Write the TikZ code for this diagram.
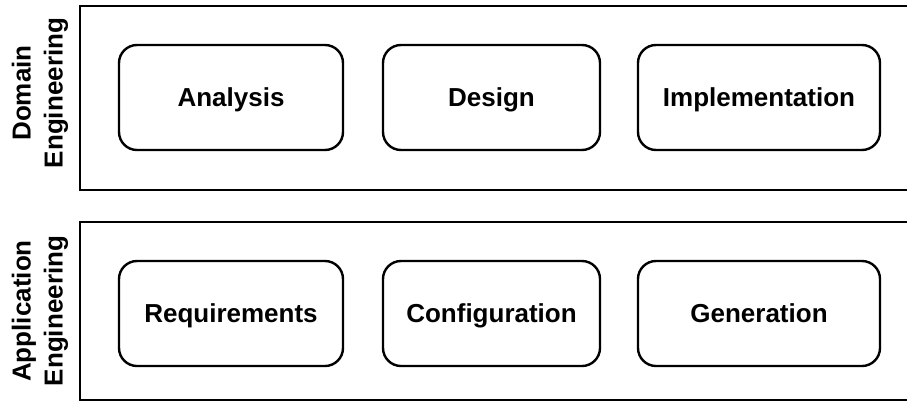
\documentclass[tikz,border=0pt]{standalone}
\usepackage{fontspec}
\setmainfont{Liberation Sans}
\usepackage{tikz}
\tikzset{stage/.style = {shape=rectangle,draw,rounded corners=18pt,line width=2.4pt,
    minimum width=224pt,minimum height=105pt,text height=18.6pt,text depth=0pt,
    font=\bfseries\fontsize{26}{31}\selectfont}}
\tikzset{lane/.style = {line width=2.4pt}}
\tikzset{side/.style = {rotate=90,align=center,inner sep=0pt,font=\bfseries\fontsize{26}{32}\selectfont}}

\begin{document}
\begin{tikzpicture}[x=1pt,y=-1pt]
                    \useasboundingbox (0,0) rectangle (907,405);

                    \draw[lane] (910,6) -- (80,6) -- (80,190) -- (910,190);
                    \draw[lane] (910,222) -- (80,222) -- (80,400) -- (910,400);

                    \node[side] (dom) at (40,93) {Domain\\Engineering};
                    \node[side] (app) at (40,311) {Application\\Engineering};

                    \node[stage] (ana) at (231,97.5) {Analysis};
                    \node[stage,minimum width=217pt] (des) at (491.5,97.5) {Design};
                    \node[stage,minimum width=242pt] (imp) at (759,97.5) {Implementation};

                    \node[stage] (req) at (231,313.5) {Requirements};
                    \node[stage,minimum width=217pt] (con) at (491.5,313.5) {Configuration};
                    \node[stage,minimum width=242pt] (gen) at (759,313.5) {Generation};
                \end{tikzpicture}
\end{document}
